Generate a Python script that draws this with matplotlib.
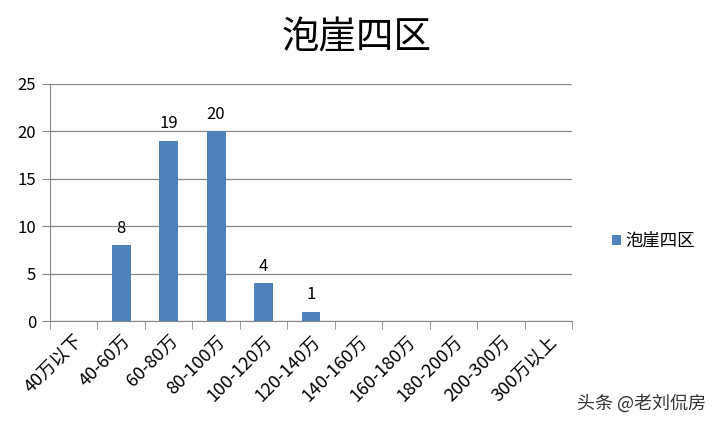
import numpy as np
import matplotlib.pyplot as plt

plt.rcParams['font.family'] = ['Noto Sans CJK SC', 'DejaVu Sans']

# 数据
categories = ['40万以下', '40-60万', '60-80万', '80-100万', '100-120万', '120-140万',
              '140-160万', '160-180万', '180-200万', '200-300万', '300万以上']
counts = [0, 8, 19, 20, 4, 1, 0, 0, 0, 0, 0]
series_name = '泡崖四区'

fig = plt.figure(figsize=(7.18, 4.23), dpi=100)
ax = fig.add_axes([50/718, 1-321/423, 522/718, 237/423])

x = np.arange(len(categories))
bars = ax.bar(x, counts, width=0.4, color='#4F81BD', label=series_name, zorder=3)

# 数据标签（0 不显示）
for xi, v in zip(x, counts):
    if v > 0:
        ax.text(xi, v + 0.9, str(v), ha='center', va='bottom', fontsize=12, color='black')

ax.set_xlim(-0.5, len(categories) - 0.5)
ax.set_ylim(0, 25)
ax.set_yticks(range(0, 26, 5))
ax.yaxis.grid(True, color='#878787', linewidth=0.9, zorder=0)

for s in ['top', 'right']:
    ax.spines[s].set_visible(False)
for s in ['left', 'bottom']:
    ax.spines[s].set_color('#878787')

ax.tick_params(axis='y', length=6, color='#878787', labelsize=12, pad=4)
ax.set_xticks(x)
ax.set_xticklabels(categories, rotation=45, ha='right', rotation_mode='anchor', fontsize=13)
ax.tick_params(axis='x', which='major', length=0, pad=8)
ax.set_xticks(np.arange(-0.5, len(categories)), minor=True)
ax.tick_params(axis='x', which='minor', length=6, color='#878787')

fig.text(0.497, 0.91, series_name, ha='center', va='center', fontsize=27)

fig.legend(handles=[bars], labels=[series_name], loc='center left',
           bbox_to_anchor=(0.83, 0.43), frameon=False, fontsize=12.5,
           handlelength=0.55, handleheight=0.55, handletextpad=0.25)

fig.text(0.983, 0.047, '头条 @老刘侃房', ha='right', va='center', fontsize=13, color='#333333')

fig.savefig('out.png', dpi=100)
